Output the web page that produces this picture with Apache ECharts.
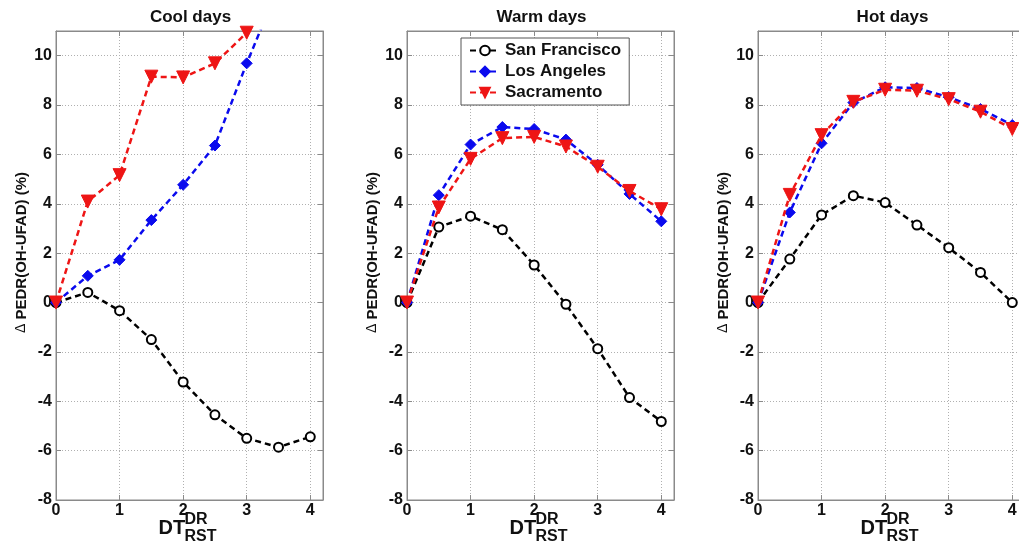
<!DOCTYPE html>
<html>
<head>
<meta charset="utf-8">
<script src="https://cdn.jsdelivr.net/npm/echarts@6/dist/echarts.min.js"></script>
<style>
  html, body { margin: 0; padding: 0; background: #fff; }
  #chart { width: 1019px; height: 548px; }
</style>
</head>
<body>
<div id="chart"></div>
<script>
// DT_RST^DR steps
var xs = [0, 0.5, 1, 1.5, 2, 2.5, 3, 3.5, 4];
var cities = ['San Francisco', 'Los Angeles', 'Sacramento'];
var panelTitles = ['Cool days', 'Warm days', 'Hot days'];
var yTicks = [-8, -6, -4, -2, 0, 2, 4, 6, 8, 10];

// cool days
var coolSF  = [0, 0.41, -0.33, -1.5, -3.22, -4.55, -5.5, -5.86, -5.44];
var coolLA  = [0, 1.08, 1.73, 3.34, 4.77, 6.36, 9.69, 12.8, 15.5];
var coolSac = [0, 4.09, 5.16, 9.15, 9.12, 9.69, 10.93, 12.5, 14];
// warm days
var warmSF  = [0, 3.06, 3.5, 2.95, 1.52, -0.07, -1.87, -3.85, -4.82];
var warmLA  = [0, 4.35, 6.4, 7.11, 7.03, 6.6, 5.58, 4.4, 3.29];
var warmSac = [0, 3.85, 5.82, 6.66, 6.71, 6.32, 5.5, 4.52, 3.78];
// hot days
var hotSF   = [0, 1.76, 3.55, 4.33, 4.05, 3.14, 2.22, 1.22, 0];
var hotLA   = [0, 3.65, 6.45, 8.1, 8.72, 8.69, 8.32, 7.84, 7.19];
var hotSac  = [0, 4.36, 6.78, 8.13, 8.62, 8.58, 8.24, 7.73, 7.03];

var panels = [
  [coolSF, coolLA, coolSac],
  [warmSF, warmLA, warmSac],
  [hotSF, hotLA, hotSac]
];

var FONT = '"Liberation Sans", Arial, sans-serif';
var colors = ['#000000', '#0a0aee', '#ee1515'];
var symbols = ['circle', 'diamond', 'path://M0,0 L10,0 L5,9 Z'];
var symbolSizes = [9, 11, 13];

// panel layout (px); last panel runs past the right edge of the picture
var gridBoxes = [
  { left: 56,  right: 696 },
  { left: 407, right: 345 },
  { left: 758, right: -6 }
];
var gridTop = 31, gridBottom = 48;

function pairs(arr) {
    return arr.map(function (v, i) { return [xs[i], v]; });
}

var grids = [], xAxes = [], yAxes = [], series = [], titles = [], graphics = [];
var tickStyle = { inside: true, length: 5, lineStyle: { color: '#8a8a8a' } };
var gridLine = { show: true, lineStyle: { color: '#b0b0b0', type: [1, 2] } };
var labelFont = { color: '#111', fontFamily: FONT, fontWeight: 'bold', fontSize: 16 };

gridBoxes.forEach(function (g, p) {
    grids.push({
        left: g.left, right: g.right, top: gridTop, bottom: gridBottom,
        outerBoundsMode: 'none', containLabel: false,
        show: true, borderColor: '#8a8a8a', borderWidth: 1, backgroundColor: '#fff'
    });
    var cx = g.left + (1019 - g.right - g.left) / 2;

    xAxes.push({
        type: 'value', gridIndex: p, min: 0, max: 4.2, interval: 1,
        axisLine: { onZero: false, lineStyle: { color: '#8a8a8a' } },
        axisTick: tickStyle,
        axisLabel: Object.assign({ margin: 3, formatter: function (v) { return v > 4 ? '' : v; } }, labelFont),
        splitLine: gridLine
    });
    xAxes.push({
        type: 'value', gridIndex: p, position: 'top', min: 0, max: 4.2, interval: 1,
        axisLine: { onZero: false, lineStyle: { color: '#8a8a8a' } },
        axisTick: tickStyle,
        axisLabel: { show: false },
        splitLine: { show: false }
    });
    yAxes.push({
        type: 'value', gridIndex: p, min: -8, max: 11, interval: 2,
        name: '{d|Δ} PEDR(OH-UFAD) (%)', nameLocation: 'middle', nameGap: 27,
        nameTextStyle: {
            color: '#111', fontFamily: FONT, fontWeight: 'bold', fontSize: 15,
            padding: [0, 0, 0, 26],
            rich: { d: { fontFamily: FONT, fontWeight: 'normal', fontSize: 14, color: '#111' } }
        },
        axisLine: { onZero: false, lineStyle: { color: '#8a8a8a' } },
        axisTick: tickStyle,
        axisLabel: Object.assign({ margin: 4, formatter: function (v) { return yTicks.indexOf(v) >= 0 ? v : ''; } }, labelFont),
        splitLine: gridLine
    });
    yAxes.push({
        type: 'value', gridIndex: p, position: 'right', min: -8, max: 11, interval: 2,
        axisLine: { onZero: false, lineStyle: { color: '#8a8a8a' } },
        axisTick: tickStyle,
        axisLabel: { show: false },
        splitLine: { show: false }
    });

    titles.push({
        text: panelTitles[p], left: cx - 4, top: 4, textAlign: 'center',
        textStyle: { color: '#111', fontFamily: FONT, fontWeight: 'bold', fontSize: 17 }
    });

    // x axis name: DT with superscript DR and subscript RST
    graphics.push({
        type: 'group', left: cx - 31, top: 512,
        children: [
            { type: 'text', x: 0, y: 7, style: { text: 'DT', fill: '#111', font: 'bold 20px ' + FONT } },
            { type: 'text', x: 26, y: 1, style: { text: 'DR', fill: '#111', font: 'bold 16px ' + FONT } },
            { type: 'text', x: 26, y: 18, style: { text: 'RST', fill: '#111', font: 'bold 16px ' + FONT } }
        ]
    });

    panels[p].forEach(function (vals, s) {
        series.push({
            name: cities[s], type: 'line',
            xAxisIndex: 2 * p, yAxisIndex: 2 * p,
            data: pairs(vals),
            clip: true,
            symbol: symbols[s], symbolSize: symbolSizes[s],
            showAllSymbol: true,
            lineStyle: { color: colors[s], width: 2.5, type: [6, 4] },
            itemStyle: s === 0
                ? { color: '#ffffff', borderColor: '#000', borderWidth: 2 }
                : { color: colors[s], borderColor: colors[s], borderWidth: 1 },
            z: 3 + s
        });
    });
});

var chart = echarts.init(document.getElementById('chart'), null, { renderer: 'canvas' });
chart.setOption({
    animation: false,
    backgroundColor: '#fff',
    title: titles,
    grid: grids,
    xAxis: xAxes,
    yAxis: yAxes,
    legend: {
        data: cities,
        orient: 'vertical',
        left: 461, top: 38,
        backgroundColor: '#fff',
        borderColor: '#555', borderWidth: 1,
        padding: [4, 8, 4, 8],
        itemGap: 4,
        itemWidth: 30, itemHeight: 12,
        textStyle: { color: '#111', fontFamily: FONT, fontWeight: 'bold', fontSize: 17 }
    },
    graphic: graphics,
    series: series
});
</script>
</body>
</html>
